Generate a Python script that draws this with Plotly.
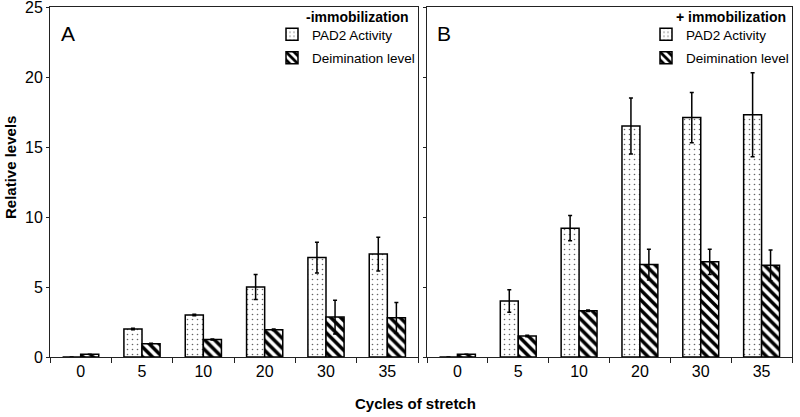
import plotly.graph_objects as go

cycles = ["0", "5", "10", "20", "30", "35"]

# Panel A: - immobilization
pad2_a = [0.0, 2.0, 3.0, 5.0, 7.1, 7.35]
pad2_a_err = [0.0, 0.05, 0.05, 0.9, 1.1, 1.2]
deim_a = [0.2, 0.95, 1.25, 1.95, 2.85, 2.8]
deim_a_err = [0.0, 0.03, 0.03, 0.05, 1.2, 1.1]

# Panel B: + immobilization
pad2_b = [0.0, 4.0, 9.2, 16.5, 17.1, 17.3]
pad2_b_err = [0.0, 0.8, 0.9, 2.0, 1.8, 3.0]
deim_b = [0.2, 1.5, 3.3, 6.6, 6.8, 6.55]
deim_b_err = [0.0, 0.05, 0.05, 1.1, 0.9, 1.1]

FONT = "Liberation Sans, Arial, sans-serif"

dot_pattern = dict(shape=".", fgcolor="#666666", bgcolor="white", size=5, solidity=0.08)
hatch_pattern = dict(shape="\\", fgcolor="black", bgcolor="white", size=7, solidity=0.5)

def err(vals):
    return dict(type="data", array=vals, visible=True, color="black", thickness=1.5, width=2)

fig = go.Figure()

fig.add_trace(go.Bar(x=cycles, y=pad2_a, error_y=err(pad2_a_err), name="PAD2 Activity",
                     marker=dict(color="white", pattern=dot_pattern, line=dict(color="black", width=1.5)),
                     xaxis="x", yaxis="y", legend="legend", legendgroup="a1"))
fig.add_trace(go.Bar(x=cycles, y=deim_a, error_y=err(deim_a_err), name="Deimination level",
                     marker=dict(color="white", pattern=hatch_pattern, line=dict(color="black", width=1.5)),
                     xaxis="x", yaxis="y", legend="legend", legendgroup="a2"))
fig.add_trace(go.Bar(x=cycles, y=pad2_b, error_y=err(pad2_b_err), name="PAD2 Activity",
                     marker=dict(color="white", pattern=dot_pattern, line=dict(color="black", width=1.5)),
                     xaxis="x2", yaxis="y2", legend="legend2", legendgroup="b1"))
fig.add_trace(go.Bar(x=cycles, y=deim_b, error_y=err(deim_b_err), name="Deimination level",
                     marker=dict(color="white", pattern=hatch_pattern, line=dict(color="black", width=1.5)),
                     xaxis="x2", yaxis="y2", legend="legend2", legendgroup="b2"))

W, H = 800, 417
# reference plot area: x 50..792, y 7..357
ml, mt = 50, 7
mr = 800 - 792
mb = 417 - 357
pw = W - ml - mr
ph = H - mt - mb

def px2x(p):
    return (p - ml) / pw

def py2y(p):
    return (H - mb - p) / ph

xcommon = dict(type="category", showline=True, linecolor="#222", linewidth=1, mirror=True,
               ticks="outside", tickson="boundaries", ticklen=5, tickcolor="#222",
               tickfont=dict(size=16, color="black", family=FONT), showgrid=False, zeroline=False,
               automargin=False)
ycommon = dict(range=[0, 25], tickvals=[0, 5, 10, 15, 20, 25], showline=True, linecolor="#222",
               linewidth=1, mirror=True, ticks="outside", ticklen=3, tickcolor="#222",
               tickfont=dict(size=16, color="black", family=FONT), showgrid=False, zeroline=False,
               automargin=False, ticklabeloverflow="allow")

legend_common = dict(font=dict(size=13.5, family=FONT, color="black"), bgcolor="rgba(0,0,0,0)",
                     yanchor="top", y=py2y(19), xanchor="left", tracegroupgap=3,
                     traceorder="grouped")

fig.update_layout(
    template="none",
    width=W, height=H,
    margin=dict(l=ml, r=mr, t=mt, b=mb, autoexpand=False),
    paper_bgcolor="white", plot_bgcolor="white",
    font=dict(family=FONT, color="black"),
    barmode="group", bargap=0.41, bargroupgap=0.0,
    xaxis=dict(domain=[0, px2x(418)], anchor="y", **xcommon),
    yaxis=dict(domain=[0, 1], anchor="x", **ycommon),
    xaxis2=dict(domain=[px2x(427), 1.0], anchor="y2", **xcommon),
    yaxis2=dict(domain=[0, 1], anchor="x2", showticklabels=False, **ycommon),
    legend=dict(x=px2x(272), **legend_common),
    legend2=dict(x=px2x(646), **legend_common),
    showlegend=True,
    annotations=[
        dict(text="<b>-immobilization</b>", x=px2x(304), y=py2y(17), xref="paper", yref="paper",
             xanchor="left", yanchor="middle", showarrow=False,
             font=dict(size=14, family=FONT, color="black")),
        dict(text="<b>+ immobilization</b>", x=px2x(674), y=py2y(17), xref="paper", yref="paper",
             xanchor="left", yanchor="middle", showarrow=False,
             font=dict(size=14, family=FONT, color="black")),
        dict(text="A", x=px2x(59), y=py2y(20), xref="paper", yref="paper", xanchor="left", yanchor="top",
             showarrow=False, font=dict(size=21, family=FONT, color="black")),
        dict(text="B", x=px2x(435), y=py2y(20), xref="paper", yref="paper", xanchor="left", yanchor="top",
             showarrow=False, font=dict(size=21, family=FONT, color="black")),
        dict(text="<b>Relative levels</b>", x=px2x(10), y=py2y(168), xref="paper", yref="paper",
             xanchor="center", yanchor="middle", textangle=-90, showarrow=False,
             font=dict(size=15, family=FONT, color="black")),
        dict(text="<b>Cycles of stretch</b>", x=px2x(415), y=py2y(403), xref="paper", yref="paper",
             xanchor="center", yanchor="middle", showarrow=False,
             font=dict(size=15, family=FONT, color="black")),
    ],
)

fig.write_html("out.html",
               config={"displayModeBar": False},
               post_script="document.body.style.margin='0px';document.body.style.overflow='hidden';")
